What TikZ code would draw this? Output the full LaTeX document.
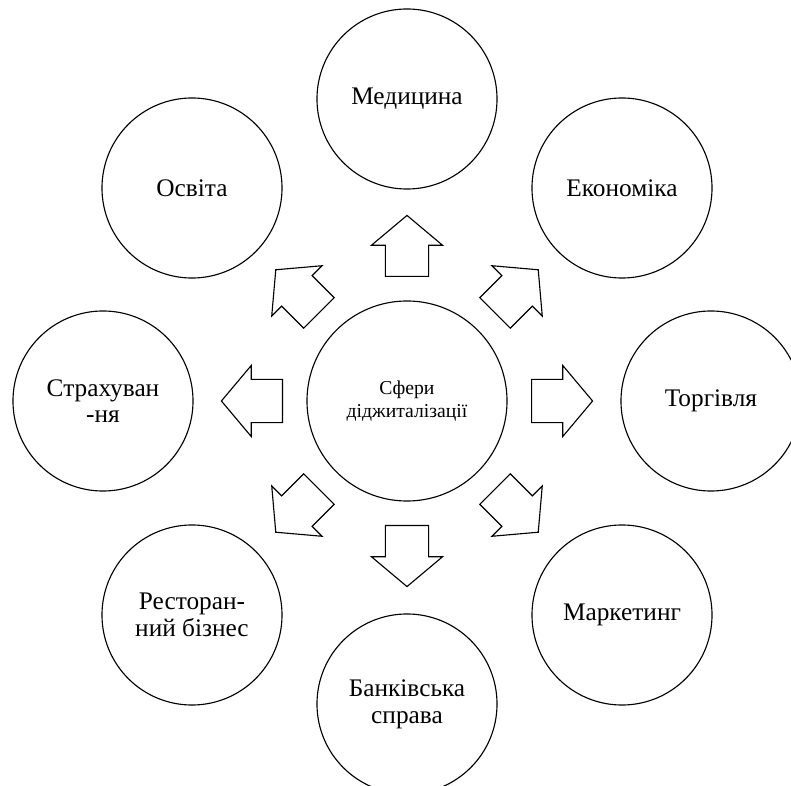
\documentclass[tikz,border=0pt]{standalone}
\usepackage{fontspec}
\setmainfont{Liberation Serif}
\usetikzlibrary{shapes.arrows, calc}

\tikzset{
  sphere/.style={circle, draw, line width=0.8pt, minimum size=4.5cm, inner sep=0pt,
    align=center, font=\fontsize{18}{19}\selectfont},
  hub/.style={circle, draw, line width=0.8pt, minimum size=5cm, inner sep=0pt,
    align=center, font=\fontsize{14}{16}\selectfont},
  blockarrow/.style={single arrow, draw, line width=0.8pt, minimum height=1.525cm,
    inner xsep=0pt, inner ysep=0.525cm, single arrow head extend=0.35cm,
    single arrow tip angle=100, anchor=tail}
}

\begin{document}
\begin{tikzpicture}[x=0.025cm, y=0.025cm]
\useasboundingbox (0,0) rectangle (791,785);

\node[hub] (centr) at (407,384) {Сфери\\діджиталізації};

% outer spheres
\node[sphere] (med)    at (407,686) {Медицина};
\node[sphere] (osvita) at (192,597) {Освіта};
\node[sphere] (ekon)   at (622,597) {Економіка};
\node[sphere] (strakh) at (103,384) {Страхуван\\-ня};
\node[sphere] (torh)   at (711,384) {Торгівля};
\node[sphere] (rest)   at (192,170) {Ресторан-\\ний бізнес};
\node[sphere] (market) at (622,170) {Маркетинг};
\node[sphere] (bank)   at (407,81)  {Банківська\\справа};

% arrows out of the centre
\node[blockarrow, rotate=90]  (aMed)    at ($(centr)+(90:124)$)  {};
\node[blockarrow, rotate=135] (aOsvita) at ($(centr)+(135:124)$) {};
\node[blockarrow, rotate=45]  (aEkon)   at ($(centr)+(45:124)$)  {};
\node[blockarrow, rotate=180] (aStrakh) at ($(centr)+(180:124)$) {};
\node[blockarrow, rotate=0]   (aTorh)   at ($(centr)+(0:124)$)   {};
\node[blockarrow, rotate=225] (aRest)   at ($(centr)+(225:124)$) {};
\node[blockarrow, rotate=315] (aMarket) at ($(centr)+(315:124)$) {};
\node[blockarrow, rotate=270] (aBank)   at ($(centr)+(270:124)$) {};
\end{tikzpicture}
\end{document}
